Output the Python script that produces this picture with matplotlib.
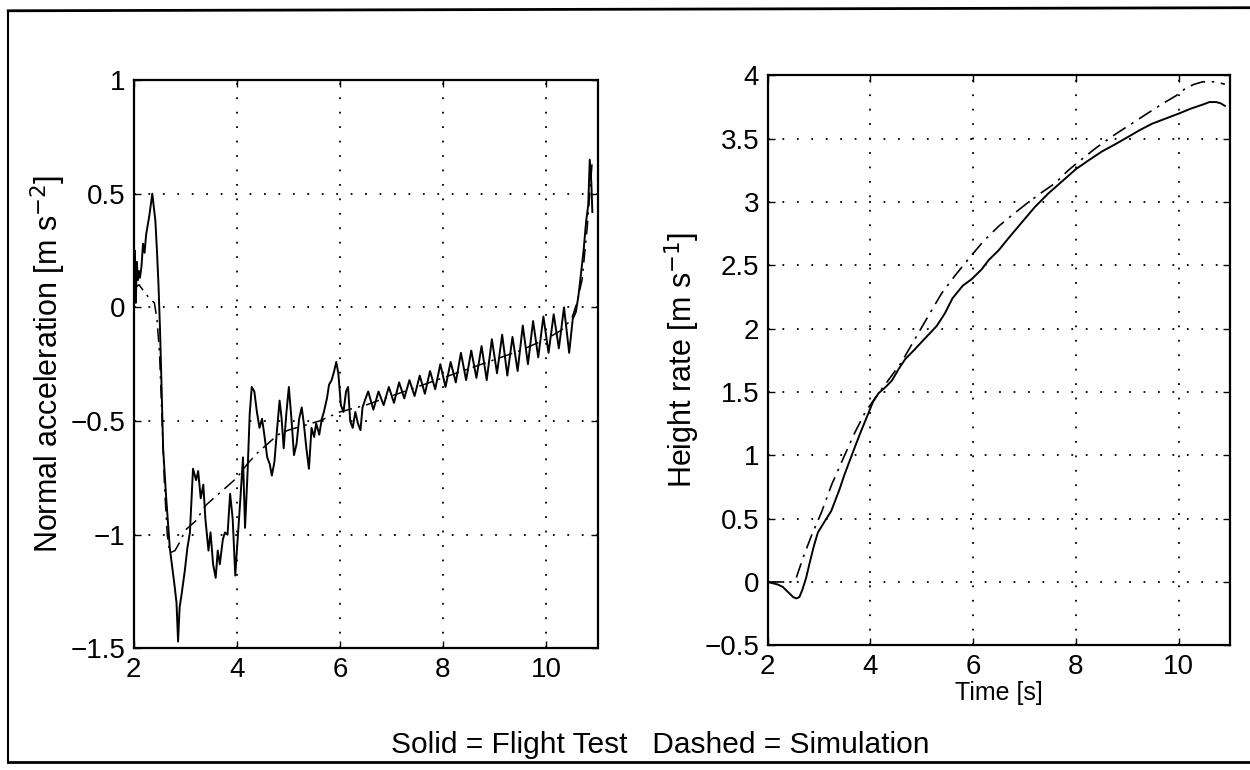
import matplotlib
matplotlib.use("Agg")
import matplotlib.pyplot as plt
from matplotlib.lines import Line2D
from matplotlib.ticker import FuncFormatter

plt.rcParams['font.family'] = ['Liberation Sans', 'DejaVu Sans']

# ---------------- data ----------------
# Left panel: normal acceleration, flight test (solid)
acc_test_t = [2.00, 2.02, 2.04, 2.06, 2.08, 2.10, 2.12, 2.15, 2.18, 2.21, 2.24, 2.27, 2.30,
              2.33, 2.36, 2.39, 2.42, 2.45, 2.48, 2.51, 2.54, 2.57, 2.63, 2.70, 2.75, 2.79,
              2.83, 2.86, 2.89, 2.93, 2.99, 3.04, 3.09, 3.15, 3.21, 3.25, 3.30, 3.35, 3.39,
              3.45, 3.49, 3.54, 3.59, 3.63, 3.67, 3.73, 3.77, 3.82, 3.87, 3.92, 3.97, 4.01,
              4.07, 4.12, 4.16, 4.21, 4.25, 4.29, 4.34, 4.39, 4.44, 4.49, 4.54, 4.59, 4.64,
              4.68, 4.73, 4.78, 4.83, 4.87, 4.91, 4.96, 5.01, 5.06, 5.11, 5.16, 5.21, 5.26,
              5.30, 5.35, 5.40, 5.45, 5.50, 5.54, 5.60, 5.65, 5.69, 5.75, 5.79, 5.84, 5.89,
              5.93, 5.97, 6.02, 6.07, 6.12, 6.16, 6.20, 6.25, 6.30, 6.35, 6.40, 6.44, 6.50,
              6.55, 6.65, 6.75, 6.85, 6.95, 7.05, 7.15, 7.25, 7.35, 7.45, 7.55, 7.65, 7.75,
              7.85, 7.95, 8.05, 8.15, 8.25, 8.35, 8.45, 8.55, 8.65, 8.75, 8.85, 8.95, 9.05,
              9.15, 9.25, 9.35, 9.45, 9.55, 9.65, 9.75, 9.85, 9.95, 10.05, 10.15, 10.25,
              10.35, 10.45, 10.52, 10.58, 10.63, 10.68, 10.73, 10.78, 10.82, 10.85, 10.88,
              10.90]
acc_test = [0.10, 0.25, 0.02, 0.20, 0.12, 0.16, 0.13, 0.18, 0.28, 0.24, 0.32, 0.36, 0.40,
            0.45, 0.50, 0.44, 0.38, 0.25, 0.10, -0.10, -0.35, -0.62, -0.84, -1.06, -1.15, -1.22,
            -1.30, -1.47, -1.32, -1.26, -1.16, -1.06, -0.99, -0.71, -0.76, -0.72, -0.84, -0.78,
            -0.93, -1.07, -0.99, -1.13, -1.19, -1.07, -1.13, -1.02, -0.99, -1.00, -0.82, -0.93,
            -1.18, -1.04, -0.84, -0.66, -0.97, -0.72, -0.47, -0.35, -0.37, -0.46, -0.53, -0.49,
            -0.57, -0.66, -0.69, -0.74, -0.68, -0.54, -0.41, -0.49, -0.62, -0.47, -0.35, -0.49,
            -0.65, -0.60, -0.49, -0.44, -0.51, -0.62, -0.71, -0.53, -0.57, -0.51, -0.56, -0.49,
            -0.46, -0.40, -0.34, -0.32, -0.28, -0.24, -0.29, -0.43, -0.46, -0.37, -0.35, -0.50,
            -0.53, -0.46, -0.51, -0.54, -0.44, -0.40,
            -0.37, -0.45, -0.37, -0.43, -0.35, -0.42, -0.33, -0.40, -0.32, -0.39, -0.30, -0.38,
            -0.28, -0.36, -0.25, -0.35, -0.24, -0.33, -0.20, -0.32, -0.19, -0.31, -0.17, -0.32,
            -0.14, -0.29, -0.12, -0.30, -0.13, -0.28, -0.08, -0.25, -0.06, -0.22, -0.04, -0.20,
            -0.03, -0.18, 0.00, -0.20, -0.05, -0.02, 0.05, 0.15, 0.25, 0.38, 0.45, 0.65, 0.55,
            0.42]

# Left panel: normal acceleration, simulation (dashed)
acc_sim_t = [2.00, 2.10, 2.20, 2.30, 2.40, 2.45, 2.50, 2.55, 2.60, 2.65, 2.70, 2.80, 2.90,
             3.00, 3.20, 3.40, 3.60, 3.80, 4.00, 4.20, 4.40, 4.60, 4.80, 5.00, 5.30, 5.60,
             6.00, 6.50, 7.00, 7.50, 8.00, 8.50, 9.00, 9.50, 10.00, 10.30, 10.50, 10.60,
             10.70, 10.80, 10.85, 10.90]
acc_sim = [0.08, 0.10, 0.07, 0.04, 0.02, -0.05, -0.20, -0.50, -0.80, -1.00, -1.08, -1.07,
           -1.03, -0.98, -0.94, -0.87, -0.83, -0.79, -0.75, -0.69, -0.64, -0.60, -0.56, -0.54,
           -0.52, -0.50, -0.46, -0.43, -0.39, -0.35, -0.31, -0.27, -0.23, -0.19, -0.14, -0.10,
           -0.05, 0.02, 0.12, 0.35, 0.50, 0.65]

# Right panel: height rate, flight test (solid)
hr_test_t = [2.00, 2.10, 2.20, 2.30, 2.40, 2.50, 2.56, 2.62, 2.68, 2.75, 2.82, 2.90, 2.98,
             3.10, 3.24, 3.40, 3.50, 3.63, 3.78, 3.93, 4.05, 4.16, 4.30, 4.42, 4.55, 4.68,
             4.85, 5.01, 5.15, 5.29, 5.45, 5.60, 5.68, 5.80, 5.97, 6.17, 6.30, 6.50, 6.70,
             6.95, 7.20, 7.47, 7.75, 8.00, 8.25, 8.51, 8.78, 9.04, 9.25, 9.49, 9.75, 10.01,
             10.25, 10.47, 10.60, 10.73, 10.82, 10.90]
hr_test = [0.00, -0.01, -0.02, -0.04, -0.08, -0.12, -0.13, -0.12, -0.06, 0.03, 0.15, 0.28,
           0.39, 0.47, 0.56, 0.73, 0.85, 0.99, 1.15, 1.30, 1.42, 1.49, 1.54, 1.59, 1.68, 1.76,
           1.83, 1.90, 1.96, 2.02, 2.12, 2.24, 2.28, 2.34, 2.39, 2.47, 2.54, 2.62, 2.72, 2.84,
           2.96, 3.07, 3.17, 3.26, 3.33, 3.40, 3.46, 3.52, 3.57, 3.62, 3.66, 3.70, 3.74, 3.77,
           3.79, 3.79, 3.78, 3.76]

# Right panel: height rate, simulation (dashed)
hr_sim_t = [2.00, 2.45, 2.55, 2.59, 2.70, 2.85, 3.05, 3.25, 3.50, 3.70, 3.90, 4.16, 4.40,
            4.60, 4.80, 5.00, 5.20, 5.39, 5.65, 5.91, 6.20, 6.50, 6.80, 7.08, 7.35, 7.60,
            7.85, 8.12, 8.40, 8.71, 9.05, 9.43, 9.70, 9.95, 10.14, 10.30, 10.47, 10.73, 10.90]
hr_sim = [0.00, 0.00, 0.02, 0.07, 0.20, 0.36, 0.55, 0.77, 1.00, 1.18, 1.34, 1.49, 1.62,
          1.73, 1.87, 2.01, 2.15, 2.28, 2.42, 2.55, 2.69, 2.81, 2.91, 3.00, 3.08, 3.15,
          3.25, 3.34, 3.43, 3.52, 3.61, 3.71, 3.78, 3.84, 3.90, 3.93, 3.95, 3.95, 3.93]

left_yticks = [-1.5, -1, -0.5, 0, 0.5, 1]
right_yticks = [-0.5, 0, 0.5, 1, 1.5, 2, 2.5, 3, 3.5, 4]
xticks = [2, 4, 6, 8, 10]

left_ylabel = "Normal acceleration [m s$^{-2}$]"
right_ylabel = "Height rate [m s$^{-1}$]"
xlabel = "Time [s]"
caption = "Solid = Flight Test   Dashed = Simulation"

# ---------------- figure ----------------
fig = plt.figure(figsize=(12.5, 7.7), dpi=100)
ax1 = fig.add_axes([0.107, 0.158, 0.371, 0.738])
ax2 = fig.add_axes([0.614, 0.162, 0.370, 0.740])

def fmt(v, pos):
    s = ('%g' % v)
    return s.replace('-', '\u2212')

dashdot = (0, (9, 4, 1.5, 4))
for ax in (ax1, ax2):
    ax.set_xlim(2, 11)
    ax.set_xticks(xticks)
    ax.grid(True, color='black', linestyle=(0, (1, 7)), linewidth=1.3)
    ax.tick_params(direction='in', length=5, width=1, labelsize=20, pad=6,
                   top=True, right=True, colors='black')
    for s in ax.spines.values():
        s.set_linewidth(1.6)
        s.set_color('black')
    ax.yaxis.set_major_formatter(FuncFormatter(fmt))

ax1.plot(acc_test_t, acc_test, color='black', linewidth=1.4)
ax1.plot(acc_sim_t, acc_sim, color='black', linewidth=1.1, linestyle=dashdot)
ax1.set_ylim(-1.5, 1)
ax1.set_yticks(left_yticks)
ax1.set_ylabel(left_ylabel, fontsize=22, labelpad=2)

ax2.plot(hr_test_t, hr_test, color='black', linewidth=1.4)
ax2.plot(hr_sim_t, hr_sim, color='black', linewidth=1.2, linestyle=dashdot)
ax2.set_ylim(-0.5, 4)
ax2.set_yticks(right_yticks)
ax2.set_ylabel(right_ylabel, fontsize=22, labelpad=2)
ax2.set_xlabel(xlabel, fontsize=18, labelpad=1)

fig.text(0.528, 0.032, caption, fontsize=21.5, ha='center', va='center')

# outer frame of the scanned figure
fig.add_artist(Line2D([0.0066, 0.0066], [0.010, 0.986], transform=fig.transFigure,
                      color='black', linewidth=1.5))
fig.add_artist(Line2D([0.0066, 1.0], [0.986, 0.990], transform=fig.transFigure,
                      color='black', linewidth=2.0))
fig.add_artist(Line2D([0.0066, 1.0], [0.011, 0.011], transform=fig.transFigure,
                      color='black', linewidth=2.0))

fig.savefig("out.png", dpi=100)
